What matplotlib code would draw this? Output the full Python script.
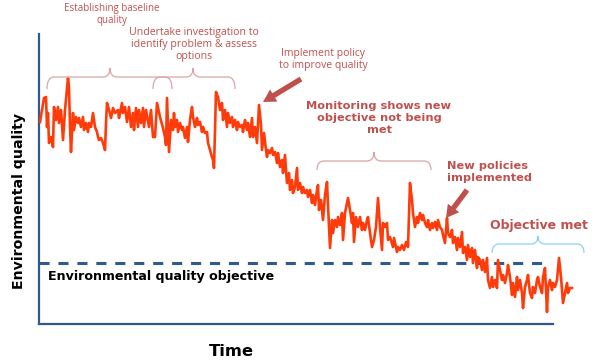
import matplotlib
matplotlib.use("Agg")
import matplotlib.pyplot as plt
from matplotlib.path import Path
from matplotlib.patches import PathPatch, FancyArrowPatch

# ---------------- data (arbitrary units) ----------------
time_a = [40, 44, 46, 47, 48, 49, 51, 53, 54, 56, 58, 59, 61, 63, 65, 68, 69, 70, 71, 73,
          74, 76, 78, 79, 81, 83, 84, 86, 88, 89, 91, 93, 95, 97, 98, 99, 101, 103, 105, 106,
          107, 109, 111, 113, 115, 118, 119, 122, 123, 125, 127, 129, 131, 133, 134, 136, 138,
          139, 141, 143, 144, 146, 149, 151, 153]
quality_a = [202, 226, 227, 197, 211, 181, 187, 177, 217, 204, 217, 201, 214, 184, 214, 246, 237,
             197, 172, 211, 194, 207, 201, 206, 197, 207, 194, 201, 192, 201, 197, 211, 197, 192,
             187, 184, 186, 181, 174, 201, 221, 214, 206, 216, 211, 214, 206, 221, 211, 217, 202,
             217, 197, 211, 194, 216, 197, 214, 201, 216, 197, 214, 197, 214, 187]

time_b = [155, 157, 160, 163, 165, 166, 167, 169, 171, 173, 174, 175, 177, 178, 180, 182, 183,
          185, 187, 188, 190, 192, 193, 195, 197, 198, 200, 202, 203, 205, 207, 208, 210, 212,
          213, 214, 216, 218, 220, 222, 223, 225, 227, 228, 230, 232, 233, 235, 237, 238, 240,
          242, 243, 245, 247, 248, 250, 252, 253, 255, 257, 259, 261, 262, 264, 266, 267]
quality_b = [187, 221, 207, 196, 187, 179, 226, 172, 204, 194, 211, 197, 204, 192, 201, 194, 197,
             186, 197, 182, 204, 217, 207, 197, 206, 199, 202, 192, 197, 191, 192, 181, 174, 167,
             164, 156, 232, 227, 214, 221, 204, 214, 197, 211, 201, 207, 197, 204, 194, 202, 197,
             199, 192, 204, 194, 201, 187, 206, 187, 197, 181, 219, 199, 174, 191, 174, 167]

time_c = [268, 270, 272, 273, 275, 277, 278, 280, 282, 283, 285, 286, 287, 289, 290, 292, 293,
          295, 297, 298, 300, 302, 303, 305, 307, 308, 310, 312, 313, 315, 317, 318, 319, 321,
          323, 325, 327, 328, 330]
quality_c = [174, 171, 176, 169, 172, 161, 171, 157, 164, 151, 169, 154, 141, 151, 134, 144, 131,
             137, 156, 134, 141, 131, 137, 131, 134, 127, 134, 121, 129, 119, 134, 139, 114, 124,
             104, 129, 142, 119, 76]

time_d = [332, 333, 335, 337, 338, 340, 342, 343, 345, 348, 350, 352, 353, 354, 356, 358, 360,
          362, 363, 365, 367, 368, 370, 372, 374, 376, 378, 380, 382, 383, 385, 387, 388, 390,
          393, 394, 397, 398, 400, 402, 404, 406, 408]
quality_d = [104, 91, 104, 97, 107, 99, 111, 84, 111, 126, 114, 101, 111, 82, 107, 97, 107, 94,
             101, 94, 104, 107, 91, 77, 84, 97, 126, 97, 74, 101, 97, 101, 84, 87, 77, 86, 72, 77,
             74, 79, 74, 82, 77]

time_e = [410, 412, 413, 415, 417, 418, 420, 422, 423, 425, 427, 428, 430, 432, 433, 435, 437,
          438, 440, 442, 443, 445, 447, 448, 450, 452, 453, 455, 457, 458, 460, 462, 463, 465,
          467, 468, 470, 472, 473, 475, 477, 478, 480, 482, 483, 485, 487, 488]
quality_e = [141, 124, 111, 97, 107, 101, 111, 104, 109, 101, 97, 104, 94, 101, 96, 102, 94, 104,
             97, 94, 89, 81, 106, 91, 87, 94, 81, 87, 74, 86, 77, 92, 71, 77, 64, 79, 67, 76, 61,
             74, 56, 67, 64, 54, 64, 52, 66, 44]

time_f = [490, 492, 493, 495, 497, 498, 500, 502, 503, 505, 507, 508, 510, 512, 513, 515, 517,
          518, 520, 522, 523, 525, 527, 528, 530, 532, 533, 535, 537, 538, 540, 542, 543, 545,
          547, 548, 550, 552, 553, 555, 557, 559, 561, 563, 565, 567, 568, 570, 572]
quality_f = [36, 47, 37, 44, 36, 64, 54, 44, 49, 41, 51, 59, 47, 29, 41, 27, 47, 34, 44, 31, 16,
             37, 44, 49, 31, 26, 37, 31, 44, 47, 37, 31, 47, 56, 12, 37, 44, 34, 41, 37, 44, 66,
             47, 21, 31, 41, 31, 36, 36]

time = time_a + time_b + time_c + time_d + time_e + time_f
quality = quality_a + quality_b + quality_c + quality_d + quality_e + quality_f

objective_level = 61
time_range = (39, 553)
quality_range = (0, 290)

y_label = "Environmental quality"
x_label = "Time"
objective_label = "Environmental quality objective"

# ---------------- styles ----------------
LINE_RED = "#FF3B0A"
AXIS_BLUE = "#2F5A8E"
NOTE_RED = "#C0504D"
BRACE_PINK = "#D9A6A5"
BRACE_BLUE = "#86D3F5"

fig = plt.figure(figsize=(6, 3.62), dpi=100)
ax = fig.add_axes([39 / 600, 38 / 362, 514 / 600, 290 / 362])
ax.set_xlim(*time_range)
ax.set_ylim(*quality_range)
ax.set_xticks([])
ax.set_yticks([])
for s in ("top", "right"):
    ax.spines[s].set_visible(False)
for s in ("left", "bottom"):
    ax.spines[s].set_color(AXIS_BLUE)
    ax.spines[s].set_linewidth(1.6)
ax.patch.set_visible(False)

ax.axhline(objective_level, xmin=0, xmax=(542 - 39) / 514, color=AXIS_BLUE, lw=2.2,
           ls=(0, (3.3, 2.9)), zorder=2)
ax.plot(time, quality, color=LINE_RED, lw=1.9, clip_on=False, zorder=3,
        solid_joinstyle="round")

# ---------------- overlay in pixel coordinates ----------------
ov = fig.add_axes([0, 0, 1, 1])
ov.set_xlim(0, 600)
ov.set_ylim(362, 0)
ov.axis("off")


def brace(x0, x1, y_end, y_top, y_tip, xm, color, r=7, lw=0.9):
    verts = [(x0, y_end), (x0, y_top), (x0 + r, y_top), (xm - r, y_top),
             (xm, y_top), (xm, y_tip), (xm, y_top), (xm + r, y_top),
             (x1 - r, y_top), (x1, y_top), (x1, y_end)]
    codes = [Path.MOVETO, Path.CURVE3, Path.CURVE3, Path.LINETO,
             Path.CURVE3, Path.CURVE3, Path.CURVE3, Path.CURVE3,
             Path.LINETO, Path.CURVE3, Path.CURVE3]
    ov.add_patch(PathPatch(Path(verts, codes), fill=False, edgecolor=color, lw=lw))


brace(47, 172, 89, 77, 68, 110, BRACE_PINK)
brace(153, 235, 89, 77, 68, 193, BRACE_PINK)
brace(317, 431, 170, 161, 152, 374, BRACE_PINK)
brace(492, 584, 253, 244, 236, 538, BRACE_BLUE)


def arrow(tail, tip):
    ov.add_patch(FancyArrowPatch(tail, tip, arrowstyle="simple,head_length=0.75,head_width=0.85,tail_width=0.32",
                                 mutation_scale=12, color=NOTE_RED, lw=0, shrinkA=0, shrinkB=0))


arrow((301, 79), (263, 102))
arrow((467, 190), (446, 218))

small = dict(family="Open Sans", color=NOTE_RED, fontsize=7.0, ha="center", va="top",
             multialignment="center", linespacing=1.1)
ov.text(112, 3, "Establishing baseline\nquality", **small)
ov.text(194, 27, "Undertake investigation to\nidentify problem & assess\noptions",
        **{**small, "fontsize": 7.6})
ov.text(323, 48, "Implement policy\nto improve quality", **{**small, "fontsize": 7.5})

bold = dict(family="DejaVu Sans", weight="bold", color=NOTE_RED, fontsize=8.2,
            linespacing=1.25)
ov.text(379, 101, "Monitoring shows new\nobjective not being\nmet", ha="center", va="top",
        multialignment="center", **bold)
ov.text(447, 161, "New policies\nimplemented", ha="left", va="top", **bold)
ov.text(490, 225, "Objective met", ha="left", va="center",
        **{**bold, "fontsize": 9.0})

ov.text(48, 280, objective_label, family="DejaVu Sans", weight="bold", fontsize=9.1,
        color="black", ha="left", va="baseline")
ov.text(231, 356, x_label, family="DejaVu Sans", weight="bold", fontsize=11.8,
        color="black", ha="center", va="baseline")
ov.text(19, 201, y_label, family="DejaVu Sans", weight="bold", fontsize=10.2,
        color="black", ha="center", va="center", rotation=90)

fig.savefig("out.png", dpi=100)
